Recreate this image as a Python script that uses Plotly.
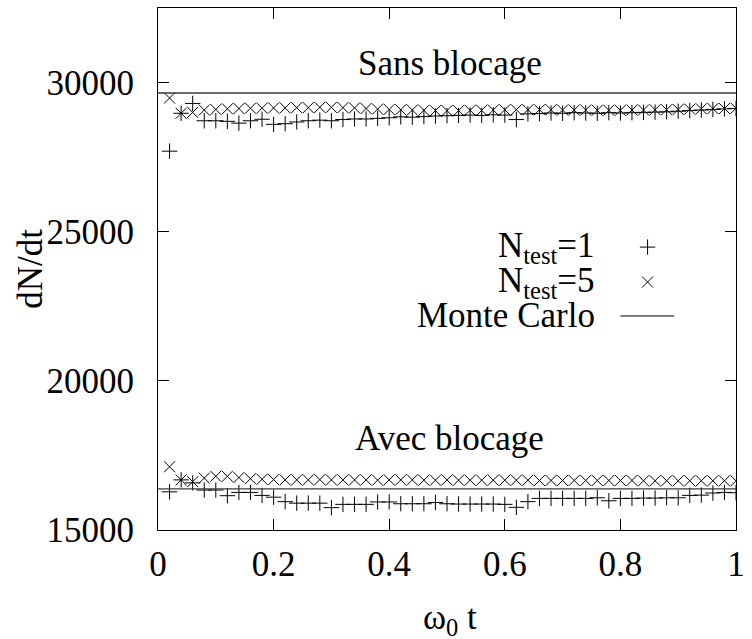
import plotly.graph_objects as go

# time axis (omega_0 t)
t = [0.02, 0.04, 0.06, 0.08, 0.10, 0.12, 0.14, 0.16, 0.18, 0.20,
     0.22, 0.24, 0.26, 0.28, 0.30, 0.32, 0.34, 0.36, 0.38, 0.40,
     0.42, 0.44, 0.46, 0.48, 0.50, 0.52, 0.54, 0.56, 0.58, 0.60,
     0.62, 0.64, 0.66, 0.68, 0.70, 0.72, 0.74, 0.76, 0.78, 0.80,
     0.82, 0.84, 0.86, 0.88, 0.90, 0.92, 0.94, 0.96, 0.98, 1.00]

# without blocking
sans_n1 = [27700, 28970, 29300, 28720, 28720, 28700, 28640, 28720, 28770, 28600,
           28620, 28680, 28720, 28740, 28720, 28760, 28780, 28780, 28800, 28820,
           28850, 28840, 28860, 28880, 28890, 28900, 28910, 28900, 28920, 28910,
           28760, 28950, 28960, 28980, 28970, 28990, 28980, 28970, 28990, 28980,
           28990, 29000, 29010, 29020, 29040, 29060, 29080, 29100, 29120, 29130]
sans_n5 = [29480, 28970, 29000, 29080, 29100, 29120, 29130, 29140, 29140, 29150,
           29150, 29160, 29160, 29170, 29170, 29160, 29150, 29130, 29110, 29100,
           29090, 29080, 29070, 29060, 29060, 29060, 29070, 29070, 29080, 29090,
           29090, 29090, 29090, 29090, 29080, 29080, 29080, 29070, 29070, 29070,
           29080, 29080, 29090, 29090, 29100, 29110, 29120, 29130, 29130, 29140]

# with blocking
avec_n1 = [16280, 16680, 16580, 16340, 16340, 16150, 16260, 16260, 16160, 16100,
           15950, 15900, 15900, 15900, 15750, 15860, 15860, 15860, 15940, 15940,
           15880, 15880, 15880, 15920, 15880, 15870, 15870, 15870, 15870, 15860,
           15760, 15950, 16060, 16060, 16060, 16060, 16060, 16080, 15980, 16060,
           16060, 16070, 16070, 16080, 16080, 16160, 16170, 16240, 16260, 16250]
avec_n5 = [17120, 16680, 16620, 16740, 16800, 16800, 16760, 16720, 16700, 16690,
           16680, 16680, 16680, 16690, 16680, 16680, 16680, 16680, 16670, 16680,
           16680, 16680, 16670, 16670, 16680, 16670, 16670, 16670, 16670, 16670,
           16670, 16670, 16660, 16660, 16660, 16660, 16660, 16660, 16660, 16660,
           16660, 16650, 16650, 16650, 16650, 16650, 16650, 16650, 16650, 16650]

# Monte Carlo reference levels
mc_sans = 29650
mc_avec = 16380

legend_labels = ["N<sub>test</sub>=1", "N<sub>test</sub>=5", "Monte Carlo"]
x_ticks = [0, 0.2, 0.4, 0.6, 0.8, 1]
x_tick_text = ["0", "0.2", "0.4", "0.6", "0.8", "1"]
y_ticks = [15000, 20000, 25000, 30000]
y_tick_text = ["15000", "20000", "25000", "30000"]

FONT = "'Liberation Serif', 'Times New Roman', Times, serif"
FS = 35
plus = dict(symbol="cross-thin-open", size=11, line=dict(width=1, color="black"), color="black")
cross = dict(symbol="x-thin-open", size=11, line=dict(width=1, color="black"), color="black")
mc_line = dict(color="#3a3a3a", width=1.3)

fig = go.Figure()
for yv in (sans_n1, avec_n1):
    fig.add_trace(go.Scatter(x=t, y=yv, mode="markers", marker=plus, showlegend=False))
for yv in (sans_n5, avec_n5):
    fig.add_trace(go.Scatter(x=t, y=yv, mode="markers", marker=cross, showlegend=False))
for lvl in (mc_sans, mc_avec):
    fig.add_trace(go.Scatter(x=[0, 1], y=[lvl, lvl], mode="lines", line=mc_line,
                             showlegend=False))

# key samples drawn on an overlay axis in fractional units
key_x = 0.847
key_y = [0.542, 0.475, 0.410]
fig.add_trace(go.Scatter(x=[key_x], y=[key_y[0]], mode="markers", marker=plus,
                         xaxis="x2", yaxis="y2", showlegend=False))
fig.add_trace(go.Scatter(x=[key_x], y=[key_y[1]], mode="markers", marker=cross,
                         xaxis="x2", yaxis="y2", showlegend=False))
fig.add_trace(go.Scatter(x=[0.800, 0.893], y=[key_y[2], key_y[2]], mode="lines",
                         line=dict(color="black", width=1), xaxis="x2", yaxis="y2",
                         showlegend=False))

annotations = []
for lab, yy in zip(legend_labels, key_y):
    annotations.append(dict(text=lab, x=0.760, y=yy, xref="paper", yref="paper",
                            xanchor="right", yanchor="middle", showarrow=False,
                            font=dict(family=FONT, size=FS, color="black")))
annotations.append(dict(text="Sans blocage", x=0.505, y=29930, xref="x", yref="y",
                        xanchor="center", yanchor="bottom", showarrow=False,
                        font=dict(family=FONT, size=FS, color="black")))
annotations.append(dict(text="Avec blocage", x=0.505, y=17350, xref="x", yref="y",
                        xanchor="center", yanchor="bottom", showarrow=False,
                        font=dict(family=FONT, size=FS, color="black")))
annotations.append(dict(text="dN/dt", x=-0.222, y=0.5, xref="paper", yref="paper",
                        textangle=-90, xanchor="center", yanchor="middle", showarrow=False,
                        font=dict(family=FONT, size=FS, color="black")))
annotations.append(dict(text="ω<sub>0</sub> t", x=0.505, y=-0.172, xref="paper", yref="paper",
                        xanchor="center", yanchor="middle", showarrow=False,
                        font=dict(family=FONT, size=FS, color="black")))
fig.update_layout(annotations=annotations, font=dict(family=FONT, size=FS, color="black"))

axis_common = dict(showline=True, linecolor="black", linewidth=1.2, mirror="ticks",
                   ticks="inside", ticklen=11, tickwidth=1, tickcolor="black",
                   showgrid=False, zeroline=False, ticklabeloverflow="allow",
                   tickfont=dict(family=FONT, size=FS, color="black"))
fig.update_layout(
    width=752, height=639,
    margin=dict(l=158, r=7, t=8, b=109),
    paper_bgcolor="white", plot_bgcolor="white",
    xaxis=dict(range=[0, 1], tickvals=x_ticks, ticktext=x_tick_text,
               ticklabelstandoff=3, **axis_common),
    yaxis=dict(range=[15000, 32500], tickvals=y_ticks, ticktext=y_tick_text,
               ticklabelstandoff=16, **axis_common),
    xaxis2=dict(range=[0, 1], overlaying="x", visible=False),
    yaxis2=dict(range=[0, 1], overlaying="y", visible=False),
)

fig.write_html("out.html")
